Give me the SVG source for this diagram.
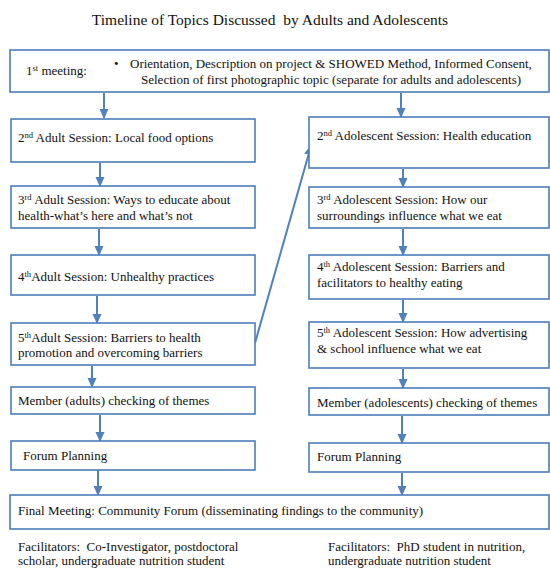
<svg xmlns="http://www.w3.org/2000/svg" width="550" height="569" viewBox="0 0 550 569">
<defs>
<marker id="ah" markerUnits="userSpaceOnUse" markerWidth="10" markerHeight="10" viewBox="0 0 10 10" refX="9" refY="5" orient="auto">
<path d="M0,0.5 L10,5 L0,9.5 Z" fill="#4f81bd"/>
</marker>
<style>
.box{fill:#fff;stroke:#4a7ebb;stroke-width:1.6}
.t{font-family:"Liberation Serif","Times New Roman",serif;font-size:13px;fill:#111}
.sup{font-size:8.5px}
.c{stroke:#4f81bd;stroke-width:2;fill:none;marker-end:url(#ah)}
</style>
</defs>
<rect width="550" height="569" fill="#fff"/>
<text class="t" x="270" y="25" text-anchor="middle" style="font-size:15.5px">Timeline of Topics Discussed&#160; by Adults and Adolescents</text>

<g id="connectors">
<line class="c" x1="104" y1="93" x2="104" y2="118"/>
<line class="c" x1="100" y1="163" x2="100" y2="186"/>
<line class="c" x1="99" y1="229" x2="99" y2="255"/>
<line class="c" x1="97" y1="296" x2="97" y2="323"/>
<line class="c" x1="92" y1="366" x2="92" y2="387"/>
<line class="c" x1="100" y1="415" x2="100" y2="441"/>
<line class="c" x1="98" y1="470" x2="98" y2="495"/>
<line class="c" x1="401" y1="93" x2="401" y2="117"/>
<line class="c" x1="403" y1="169" x2="403" y2="187"/>
<line class="c" x1="403" y1="229" x2="403" y2="255"/>
<line class="c" x1="403" y1="300" x2="403" y2="322"/>
<line class="c" x1="403" y1="369" x2="403" y2="388"/>
<line class="c" x1="402" y1="416" x2="402" y2="443"/>
<line class="c" x1="402" y1="473" x2="402" y2="495"/>
<line class="c" x1="255" y1="343" x2="311" y2="146"/>
</g>

<g id="first-meeting">
<rect class="box" x="10" y="50" width="539" height="42"/>
<text class="t" x="26" y="75">1<tspan class="sup" dy="-4">st</tspan><tspan dy="4"> meeting:</tspan></text>
<text class="t" x="114" y="68">•</text>
<text class="t" x="130" y="68">Orientation,  Description on project  &amp; SHOWED Method, Informed Consent,</text>
<text class="t" x="141" y="84">Selection  of first photographic  topic (separate for adults  and adolescents)</text>
</g>

<g id="adult-2">
<rect class="box" x="11" y="119" width="244" height="43"/>
<text class="t" x="18" y="142">2<tspan class="sup" dy="-4">nd</tspan><tspan dy="4"> Adult  Session: Local  food options</tspan></text>
</g>
<g id="adult-3">
<rect class="box" x="11" y="186" width="244" height="42"/>
<text class="t" x="18" y="204">3<tspan class="sup" dy="-4">rd</tspan><tspan dy="4"> Adult Session: Ways to educate  about</tspan></text>
<text class="t" x="18" y="220">health-what’s  here and what’s not</text>
</g>
<g id="adult-4">
<rect class="box" x="11" y="255" width="244" height="40"/>
<text class="t" x="18" y="281">4<tspan class="sup" dy="-4">th</tspan><tspan dy="4">Adult Session: Unhealthy  practices</tspan></text>
</g>
<g id="adult-5">
<rect class="box" x="11" y="323" width="244" height="42"/>
<text class="t" x="18" y="342">5<tspan class="sup" dy="-4">th</tspan><tspan dy="4">Adult Session: Barriers to health</tspan></text>
<text class="t" x="18" y="357">promotion and overcoming barriers</text>
</g>
<g id="adult-member">
<rect class="box" x="11" y="387" width="244" height="27"/>
<text class="t" x="18" y="405">Member (adults) checking of themes</text>
</g>
<g id="adult-forum">
<rect class="box" x="11" y="441" width="244" height="29"/>
<text class="t" x="23" y="460">Forum Planning</text>
</g>

<g id="adol-2">
<rect class="box" x="309" y="117" width="240" height="51"/>
<text class="t" x="317" y="140">2<tspan class="sup" dy="-4">nd</tspan><tspan dy="4"> Adolescent Session: Health  education</tspan></text>
</g>
<g id="adol-3">
<rect class="box" x="309" y="187" width="240" height="41"/>
<text class="t" x="317" y="204">3<tspan class="sup" dy="-4">rd</tspan><tspan dy="4"> Adolescent Session: How our</tspan></text>
<text class="t" x="317" y="220">surroundings influence  what we eat</text>
</g>
<g id="adol-4">
<rect class="box" x="309" y="255" width="240" height="44"/>
<text class="t" x="317" y="271">4<tspan class="sup" dy="-4">th</tspan><tspan dy="4"> Adolescent Session: Barriers and</tspan></text>
<text class="t" x="317" y="287">facilitators  to healthy  eating</text>
</g>
<g id="adol-5">
<rect class="box" x="309" y="322" width="240" height="46"/>
<text class="t" x="317" y="337">5<tspan class="sup" dy="-4">th</tspan><tspan dy="4"> Adolescent Session: How advertising</tspan></text>
<text class="t" x="317" y="353">&amp; school  influence  what we eat</text>
</g>
<g id="adol-member">
<rect class="box" x="309" y="388" width="240" height="27"/>
<text class="t" x="317" y="407">Member (adolescents) checking  of themes</text>
</g>
<g id="adol-forum">
<rect class="box" x="309" y="443" width="240" height="29"/>
<text class="t" x="317" y="461">Forum Planning</text>
</g>

<g id="final-meeting">
<rect class="box" x="10" y="495" width="539" height="34"/>
<text class="t" x="18" y="515">Final Meeting:  Community  Forum (disseminating  findings  to the community)</text>
</g>

<g id="facilitators">
<text class="t" x="18" y="551">Facilitators:&#160; Co-Investigator, postdoctoral</text>
<text class="t" x="18" y="565">scholar, undergraduate  nutrition student</text>
<text class="t" x="328" y="551">Facilitators:&#160; PhD student in nutrition,</text>
<text class="t" x="328" y="565">undergraduate  nutrition student</text>
</g>
</svg>
